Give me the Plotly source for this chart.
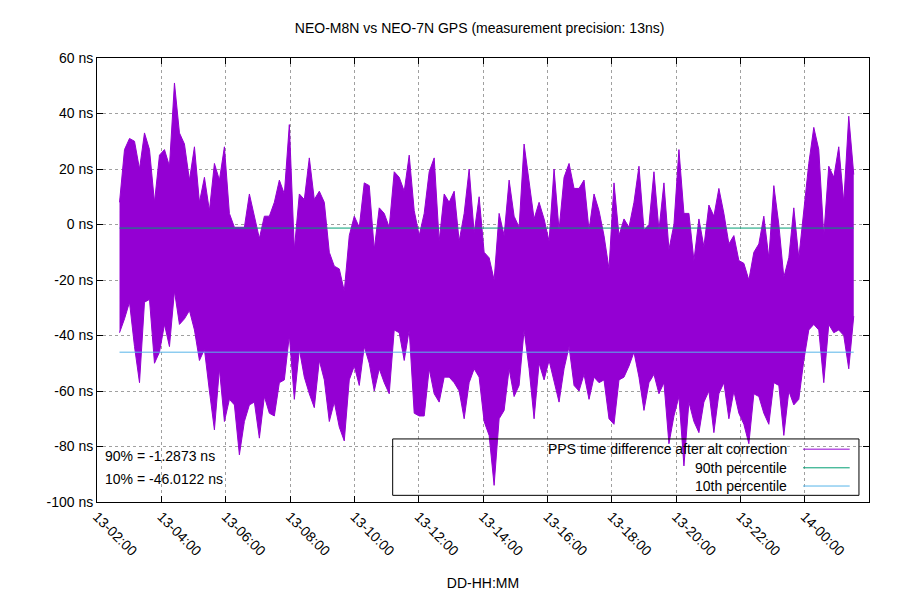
import pandas as pd
import plotly.graph_objects as go

# envelope of the PPS difference (ns), every ~9.3 min
# hi = top of the spikes, lo = bottom of the spikes
hi = [8, 27, 31, 30, 20, 33, 27, 8, 25, 27, 21, 51, 33, 29, 16, 28, 8, 17, 5, 22,
      16, 28, 4, -1, -1, -1, 11, 3, -5, 3,
      3, 8, 16, 11, 36, -9, 11, 9, 24, 9, 12, 8, -10, -15, -16, -24, -4, 3, -1, 15,
      14, -9, 6, 4, -1, 19, 17, 12, 25, 5,
      -4, 4, 19, 24, -6, 11, 8, 12, -6, 4, 20, -3, 10, -10, -12, -20, 4, -4, 16, 3,
      -1, 29, 15, 2, 8, 2, -6, 20, -2, 17,
      22, 13, 13, 16, -2, 11, 5, -4, -16, 15, -4, 2, -1, 8, 21, -2, 0, 19, -2, 15,
      -9, 0, 27, 4, 4, -13, 2, -8, 7, 3,
      13, 4, -7, -4, -13, -14, -20, -10, -7, 3, -12, 14, 0, -19, -12, 6, -12, 4, 22, 35,
      27, -4, 21, 17, 28, 8, 39, 18]
lo = [-39, -34, -28, -44, -57, -28, -27, -50, -46, -36, -44, -24, -36, -34, -31, -38, -49, -45, -60, -74,
      -52, -71, -63, -65, -83, -71, -65, -64, -77, -62,
      -68, -69, -57, -56, -40, -63, -45, -55, -61, -66, -49, -56, -71, -64, -73, -78, -56, -51, -58, -44,
      -50, -60, -52, -57, -61, -38, -39, -49, -38, -68,
      -69, -69, -52, -61, -64, -55, -55, -57, -60, -70, -57, -52, -55, -71, -76, -94, -70, -67, -52, -62,
      -58, -38, -52, -70, -50, -56, -49, -57, -64, -52,
      -44, -58, -60, -54, -63, -55, -57, -56, -70, -72, -56, -55, -51, -46, -55, -67, -57, -54, -61, -57,
      -79, -69, -62, -87, -64, -71, -75, -64, -60, -75,
      -61, -57, -70, -60, -68, -72, -79, -61, -62, -68, -72, -57, -58, -76, -60, -65, -63, -49, -38, -36,
      -38, -57, -36, -39, -38, -40, -52, -33]

p90 = -1.2873
p10 = -46.0122

start = pd.Timestamp("2021-03-13 02:42:00")
step = pd.Timedelta(seconds=559)
t = [start + i * step for i in range(len(hi))]

purple = "#9400D3"
green = "#009E73"
blue = "#56B4E9"
font = "Liberation Sans, Arial, sans-serif"

fig = go.Figure()
# spikes drawn as a filled band between the bottom and top envelopes
fig.add_trace(go.Scatter(x=t, y=lo, mode="lines", line=dict(color=purple, width=1),
                         showlegend=False, hoverinfo="skip"))
fig.add_trace(go.Scatter(x=t, y=hi, mode="lines", line=dict(color=purple, width=1),
                         fill="tonexty", fillcolor=purple,
                         name="PPS time difference after alt correction"))
fig.add_trace(go.Scatter(x=[t[0], t[-1]], y=[p90, p90], mode="lines",
                         line=dict(color=green, width=1), name="90th percentile"))
fig.add_trace(go.Scatter(x=[t[0], t[-1]], y=[p10, p10], mode="lines",
                         line=dict(color=blue, width=1), name="10th percentile"))

yticks = [-100, -80, -60, -40, -20, 0, 20, 40, 60]

# page body has an 8px margin, margins below are compensated for that
fig.update_layout(
    width=900, height=600,
    margin=dict(l=89, r=39, t=50, b=106),
    paper_bgcolor="white", plot_bgcolor="white",
    font=dict(family=font, size=14, color="black"),
    showlegend=False,
    title=dict(text="NEO-M8N vs NEO-7N GPS (measurement precision: 13ns)",
               x=0.524, xanchor="center", y=0.967, yanchor="middle",
               font=dict(size=14)),
    xaxis=dict(type="date",
               range=["2021-03-13 02:00", "2021-03-14 02:00"],
               dtick=2 * 3600 * 1000, tick0="2021-03-13 00:00",
               tickformat="%d-%H:%M", tickangle=45,
               showgrid=True, gridcolor="#a0a0a0", griddash="dot", gridwidth=1,
               showline=True, linecolor="black", linewidth=1, mirror="ticks",
               ticks="inside", ticklen=6, tickcolor="black",
               zeroline=False,
               title=dict(text="DD-HH:MM", standoff=20, font=dict(size=14))),
    yaxis=dict(range=[-100, 60], tickvals=yticks,
               ticktext=[f"{y} ns" for y in yticks],
               showgrid=True, gridcolor="#a0a0a0", griddash="dot", gridwidth=1,
               showline=True, linecolor="black", linewidth=1, mirror="ticks",
               ticks="inside", ticklen=6, tickcolor="black",
               zeroline=False),
)

# gnuplot style key box, bottom right, samples on the right
fig.add_shape(type="rect", xref="paper", yref="paper", x0=0.383, x1=0.987, y0=0.015, y1=0.142,
              line=dict(color="black", width=1), fillcolor="rgba(0,0,0,0)")
key = [("PPS time difference after alt correction", purple, 0.119),
       ("90th percentile", green, 0.077),
       ("10th percentile", blue, 0.036)]
for label, col, yy in key:
    fig.add_annotation(xref="paper", yref="paper", x=0.896, y=yy, text=label,
                       showarrow=False, xanchor="right", yanchor="middle")
    fig.add_shape(type="line", xref="paper", yref="paper", x0=0.9145, x1=0.975, y0=yy, y1=yy,
                  line=dict(color=col, width=1))

fig.add_annotation(xref="paper", yref="paper", x=0.008, y=0.104, text=f"90% = {p90} ns",
                   showarrow=False, xanchor="left", yanchor="middle")
fig.add_annotation(xref="paper", yref="paper", x=0.008, y=0.052, text=f"10% = {p10} ns",
                   showarrow=False, xanchor="left", yanchor="middle")

fig.write_html("out.html")
